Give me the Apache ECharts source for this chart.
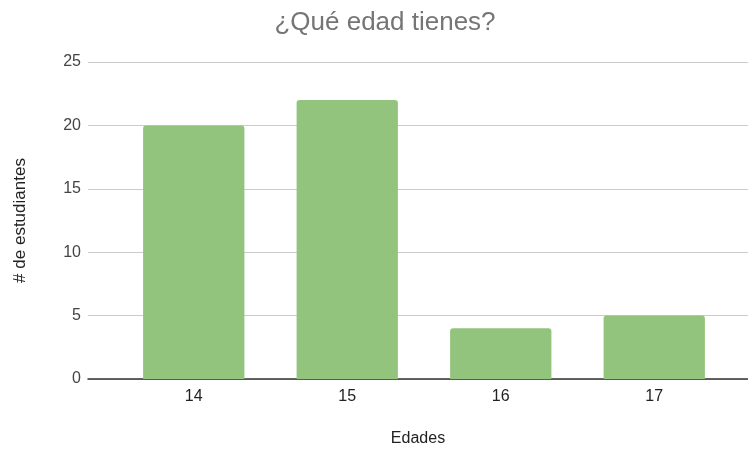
<!DOCTYPE html>
<html><head><meta charset="utf-8">
<script src="https://cdn.jsdelivr.net/npm/echarts@6/dist/echarts.min.js"></script>
<style>html,body{margin:0;padding:0;background:#fff}#c{width:748px;height:450px}</style>
</head><body><div id="c"></div>
<script>
const categories = ['14', '15', '16', '17'];
const students = [20, 22, 4, 5];
const yTicks = { min: 0, max: 25, interval: 5 };

const chart = echarts.init(document.getElementById('c'), null, { renderer: 'canvas' });
const font = 'Arial, "Liberation Sans", sans-serif';
chart.setOption({
  animation: false,
  backgroundColor: '#ffffff',
  title: {
    text: '¿Qué edad tienes?',
    left: 385, top: 5, textAlign: 'center',
    textStyle: { fontFamily: font, fontSize: 26, fontWeight: 'normal', color: '#757575' }
  },
  grid: [
    { left: 88, right: 0, top: 62, bottom: 71, outerBoundsMode: 'none', containLabel: false },
    { left: 117, right: 17, top: 62, bottom: 71, outerBoundsMode: 'none', containLabel: false }
  ],
  xAxis: [
    { gridIndex: 0, type: 'category', data: categories, axisLine: { show: true, lineStyle: { color: '#333', width: 1.5 } },
      axisTick: { show: false }, axisLabel: { show: false },
      name: 'Edades', nameLocation: 'middle', nameGap: 52,
      nameTextStyle: { fontFamily: font, fontSize: 16, color: '#222' } },
    { gridIndex: 1, type: 'category', data: categories, axisLine: { show: false }, axisTick: { show: false },
      axisLabel: { fontFamily: font, fontSize: 16, color: '#222', margin: 10 } }
  ],
  yAxis: [
    { gridIndex: 0, type: 'value', min: yTicks.min, max: yTicks.max, interval: yTicks.interval,
      axisLine: { show: false }, axisTick: { show: false },
      axisLabel: { fontFamily: font, fontSize: 16, color: '#444', margin: 7 },
      splitLine: { lineStyle: { color: '#cccccc', width: 1 } },
      name: '# de estudiantes', nameLocation: 'middle', nameGap: 59, nameRotate: 90,
      nameTextStyle: { fontFamily: font, fontSize: 17, color: '#222' } },
    { gridIndex: 1, type: 'value', min: yTicks.min, max: yTicks.max, interval: yTicks.interval,
      show: false, splitLine: { show: false } }
  ],
  series: [{
    type: 'bar', xAxisIndex: 1, yAxisIndex: 1, data: students,
    barCategoryGap: '34%',
    itemStyle: { color: '#93c47d', borderRadius: [3, 3, 0, 0] }
  }]
});
chart.setOption({ title: { left: 385 - 5 } });
</script></body></html>
